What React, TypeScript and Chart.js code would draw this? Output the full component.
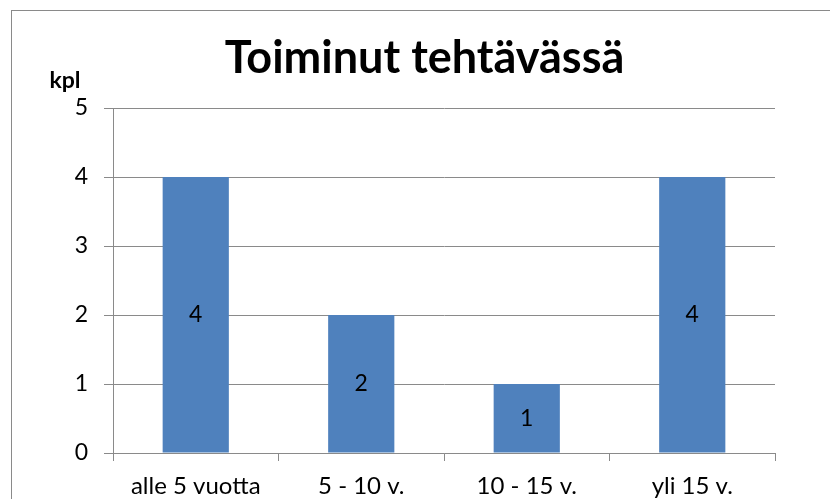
import React, { useEffect, useRef } from "react";
import { Chart, registerables } from "chart.js";

Chart.register(...registerables);

const categories = ["alle 5 vuotta", "5 - 10 v.", "10 - 15 v.", "yli 15 v."];
const values = [4, 2, 1, 4];
const yMin = 0;
const yMax = 5;
const yStep = 1;
const titleText = "Toiminut tehtävässä";
const yUnit = "kpl";

const FONT = "Lato, 'Liberation Sans', sans-serif";
const GRID = "#8a8a8a";

const framePlugin = {
  id: "frame",
  beforeDraw(chart: any) {
    const ctx = chart.ctx;
    ctx.save();
    ctx.fillStyle = "#ffffff";
    ctx.fillRect(0, 0, chart.width, chart.height);
    ctx.strokeStyle = GRID;
    ctx.lineWidth = 1;
    ctx.strokeRect(11.5, 10.5, 2000, 2000);
    ctx.restore();
  },
};

const unitPlugin = {
  id: "unitLabel",
  afterDraw(chart: any) {
    const ctx = chart.ctx;
    ctx.save();
    ctx.fillStyle = "#000";
    ctx.font = `bold 23px ${FONT}`;
    ctx.textAlign = "center";
    ctx.textBaseline = "alphabetic";
    ctx.fillText(yUnit, 65, 88);
    ctx.restore();
  },
};

const valueLabelPlugin = {
  id: "valueLabels",
  afterDatasetsDraw(chart: any) {
    const ctx = chart.ctx;
    const meta = chart.getDatasetMeta(0);
    ctx.save();
    ctx.fillStyle = "#000";
    ctx.font = `23px ${FONT}`;
    ctx.textAlign = "center";
    ctx.textBaseline = "middle";
    meta.data.forEach((bar: any, i: number) => {
      const p = bar.getProps(["x", "y", "base"], true);
      ctx.fillText(String(values[i]), p.x, (p.y + p.base) / 2);
    });
    ctx.restore();
  },
};

export default function App() {
  const ref = useRef<HTMLCanvasElement>(null);
  useEffect(() => {
    if (!ref.current) return;
    const chart = new Chart(ref.current, {
      type: "bar",
      data: {
        labels: categories,
        datasets: [
          {
            data: values,
            backgroundColor: "#4F81BD",
            borderWidth: 0,
            barPercentage: 0.4,
            categoryPercentage: 1,
          },
        ],
      },
      options: {
        responsive: false,
        animation: false,
        devicePixelRatio: 1,
        layout: { padding: { left: 74, right: 55, top: 0, bottom: 0 } },
        plugins: {
          legend: { display: false },
          tooltip: { enabled: false },
          title: {
            display: true,
            text: titleText,
            color: "#000",
            font: { family: FONT, size: 45, weight: "bold", lineHeight: 1.2 },
            padding: { top: 31.3, bottom: 22.7 },
          },
        },
        scales: {
          x: {
            grid: {
              offset: true,
              drawOnChartArea: false,
              drawTicks: true,
              tickLength: 8,
              color: GRID,
            },
            border: { color: GRID, width: 1 },
            ticks: {
              color: "#000",
              font: { family: FONT, size: 24 },
              padding: 11,
              maxRotation: 0,
              autoSkip: false,
            },
            afterFit: (s: any) => {
              s.height = 46;
            },
          },
          y: {
            min: yMin,
            max: yMax,
            grid: { color: GRID, drawTicks: true, tickLength: 9 },
            border: { color: GRID, width: 1 },
            ticks: {
              stepSize: yStep,
              color: "#000",
              font: { family: FONT, size: 23 },
              padding: 16,
            },
            afterFit: (s: any) => {
              s.width = 39;
            },
          },
        },
      },
      plugins: [framePlugin, unitPlugin, valueLabelPlugin],
    });
    return () => chart.destroy();
  }, []);
  return (
    <div style={{ position: "absolute", left: 0, top: 0, width: 830, height: 499 }}>
      <canvas ref={ref} width={830} height={499} />
    </div>
  );
}
